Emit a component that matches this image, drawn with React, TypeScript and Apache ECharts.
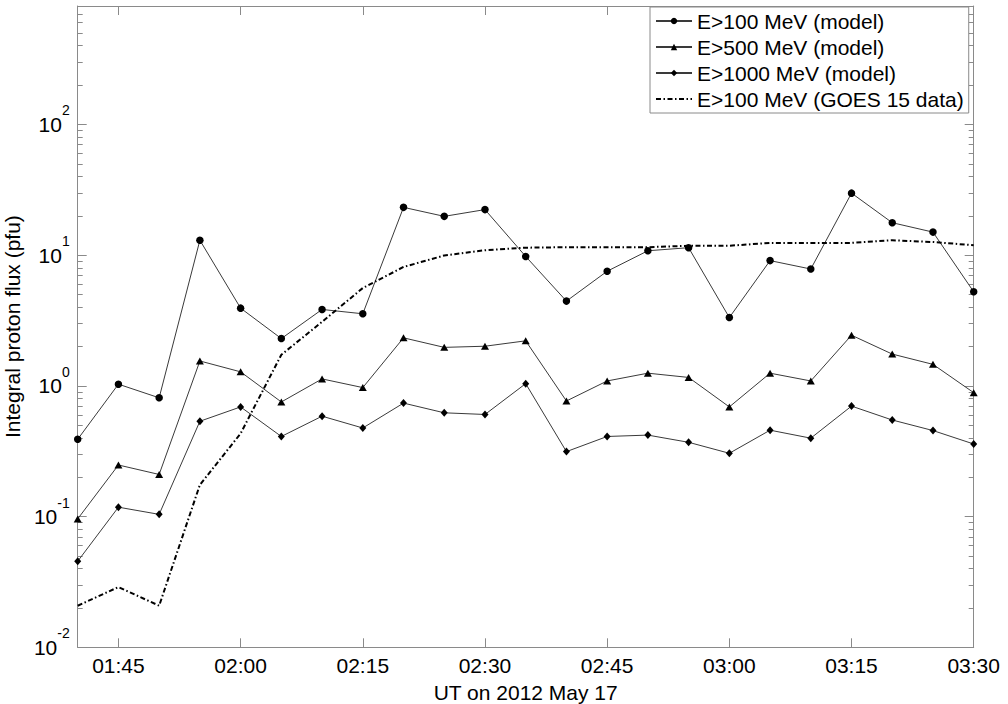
import React, { useEffect, useRef } from "react";
import * as echarts from "echarts";

const times = ["01:40","01:45","01:50","01:55","02:00","02:05","02:10","02:15","02:20","02:25","02:30","02:35","02:40","02:45","02:50","02:55","03:00","03:05","03:10","03:15","03:20","03:25","03:30"];
const e100Model = [0.39, 1.03, 0.81, 13.0, 3.93, 2.30, 3.84, 3.56, 23.2, 19.8, 22.3, 9.77, 4.45, 7.53, 10.8, 11.4, 3.33, 9.08, 7.83, 29.8, 17.7, 15.0, 5.24];
const e500Model = [0.096, 0.248, 0.210, 1.55, 1.28, 0.753, 1.13, 0.97, 2.33, 1.97, 2.01, 2.21, 0.766, 1.09, 1.25, 1.16, 0.690, 1.25, 1.09, 2.44, 1.75, 1.46, 0.887];
const e1000Model = [0.0455, 0.118, 0.104, 0.536, 0.690, 0.410, 0.586, 0.476, 0.738, 0.622, 0.604, 1.04, 0.314, 0.410, 0.420, 0.370, 0.305, 0.458, 0.398, 0.700, 0.548, 0.455, 0.359];
const goes100 = [0.0208, 0.0289, 0.0208, 0.175, 0.432, 1.73, 3.09, 5.60, 8.12, 9.94, 10.9, 11.4, 11.5, 11.5, 11.5, 11.8, 11.8, 12.4, 12.4, 12.4, 13.0, 12.6, 11.9];

const seriesNames = ["E>100 MeV (model)", "E>500 MeV (model)", "E>1000 MeV (model)", "E>100 MeV (GOES 15 data)"];
const xTickLabels = ["01:45", "02:00", "02:15", "02:30", "02:45", "03:00", "03:15", "03:30"];
const xRange = ["01:40", "03:30"];
const yMajor = [0.01, 0.1, 1, 10, 100];
const yMinorMultipliers = [2, 3, 4, 5, 6, 7, 8, 9];
const yMax = 805;

const toMin = (t: string) => {
  const [h, m] = t.split(":").map(Number);
  return h * 60 + m;
};
const fmtMin = (v: number) => {
  const h = Math.floor(v / 60);
  const m = Math.round(v - h * 60);
  return String(h).padStart(2, "0") + ":" + String(m).padStart(2, "0");
};

const FONT = "Liberation Sans, Arial, Helvetica, sans-serif";
const AXIS_GRAY = "#8a8a8a";

export default function App() {
  const ref = useRef<HTMLDivElement>(null);
  useEffect(() => {
    if (!ref.current) return;
    const chart = echarts.init(ref.current, undefined, { renderer: "svg" });
    const xTicks = xTickLabels.map(toMin);
    const xMin = toMin(xRange[0]);
    const xMax = toMin(xRange[1]);
    const yMinor: number[] = [];
    yMajor.forEach((d) => {
      yMinorMultipliers.forEach((k) => {
        const v = +(d * k).toPrecision(3);
        if (v <= yMax) yMinor.push(v);
      });
    });
    const mk = (vals: number[]) => times.map((t, i) => [toMin(t), vals[i]]);
    const lineCommon = {
      type: "line",
      xAxisIndex: 0,
      yAxisIndex: 0,
      itemStyle: { color: "#000" },
      lineStyle: { color: "#3a3a3a", width: 1 },
      emphasis: { disabled: true },
      z: 3,
    };
    const baseX = {
      type: "value",
      min: xMin,
      max: xMax,
      splitLine: { show: false },
      axisLine: { show: true, lineStyle: { color: AXIS_GRAY, width: 1 } },
      axisTick: { show: true, inside: true, length: 9, customValues: xTicks, lineStyle: { color: AXIS_GRAY, width: 1 } },
    };
    const baseY = {
      type: "log",
      logBase: 10,
      min: 0.01,
      max: yMax,
      splitLine: { show: false },
      axisLine: { show: true, lineStyle: { color: AXIS_GRAY, width: 1 } },
      axisTick: { show: true, inside: true, length: 9, customValues: yMajor, lineStyle: { color: AXIS_GRAY, width: 1 } },
    };
    const minorY = (pos: string) => ({
      type: "log",
      logBase: 10,
      min: 0.01,
      max: yMax,
      position: pos,
      splitLine: { show: false },
      axisLine: { show: false },
      axisLabel: { show: false },
      axisTick: { show: true, inside: true, length: 5, customValues: yMinor, lineStyle: { color: AXIS_GRAY, width: 1 } },
    });
    chart.setOption({
      animation: false,
      backgroundColor: "#fff",
      textStyle: { fontFamily: FONT },
      grid: { left: 77.7, right: 34.3, top: 6, bottom: 56.7, containLabel: false, outerBoundsMode: "none" },
      legend: {
        data: [
          seriesNames[0],
          seriesNames[1],
          seriesNames[2],
          { name: seriesNames[3], itemStyle: { opacity: 0 } },
        ],
        orient: "vertical",
        left: 650,
        top: 7,
        backgroundColor: "#fff",
        borderColor: AXIS_GRAY,
        borderWidth: 1,
        borderRadius: 0,
        padding: [1, 5, 1, 5],
        itemGap: 0,
        itemWidth: 36,
        itemHeight: 8,
        selectedMode: false,
        textStyle: { fontSize: 21, color: "#000", lineHeight: 26, fontFamily: FONT },
        z: 10,
      },
      xAxis: [
        {
          ...baseX,
          position: "bottom",
          name: "UT on 2012 May 17",
          nameLocation: "middle",
          nameGap: 35,
          nameTextStyle: { fontSize: 21, color: "#000", fontFamily: FONT },
          axisLabel: {
            show: true,
            customValues: xTicks,
            formatter: (v: number) => fmtMin(v),
            fontSize: 21,
            color: "#000",
            margin: 8,
            fontFamily: FONT,
          },
        },
        { ...baseX, position: "top", axisLabel: { show: false } },
      ],
      yAxis: [
        {
          ...baseY,
          position: "left",
          name: "Integral proton flux (pfu)",
          nameLocation: "middle",
          nameGap: 45,
          nameTextStyle: { fontSize: 21, color: "#000", fontFamily: FONT },
          axisLabel: {
            show: true,
            customValues: yMajor,
            margin: 8,
            formatter: (v: number) => "{b|10}{s|" + Math.round(Math.log10(v)) + "}",
            rich: {
              b: { fontSize: 21, lineHeight: 42, color: "#000", fontFamily: FONT },
              s: { fontSize: 14, verticalAlign: "top", lineHeight: 17, color: "#000", fontFamily: FONT },
            },
          },
        },
        { ...baseY, position: "right", axisLabel: { show: false } },
        minorY("left"),
        minorY("right"),
      ],
      series: [
        { ...lineCommon, name: seriesNames[0], data: mk(e100Model), symbol: "circle", symbolSize: 7.5 },
        { ...lineCommon, name: seriesNames[1], data: mk(e500Model), symbol: "triangle", symbolSize: [8, 7] },
        { ...lineCommon, name: seriesNames[2], data: mk(e1000Model), symbol: "diamond", symbolSize: [7, 8] },
        {
          ...lineCommon,
          name: seriesNames[3],
          data: mk(goes100),
          symbol: "none",
          itemStyle: { color: "rgba(0,0,0,0)" },
          lineStyle: { color: "#000", width: 2, type: [5, 2.5, 1.5, 2.5] },
        },
      ],
    });
    return () => chart.dispose();
  }, []);
  return <div ref={ref} style={{ position: "fixed", left: 0, top: 0, width: 1008, height: 704, background: "#fff" }} />;
}
